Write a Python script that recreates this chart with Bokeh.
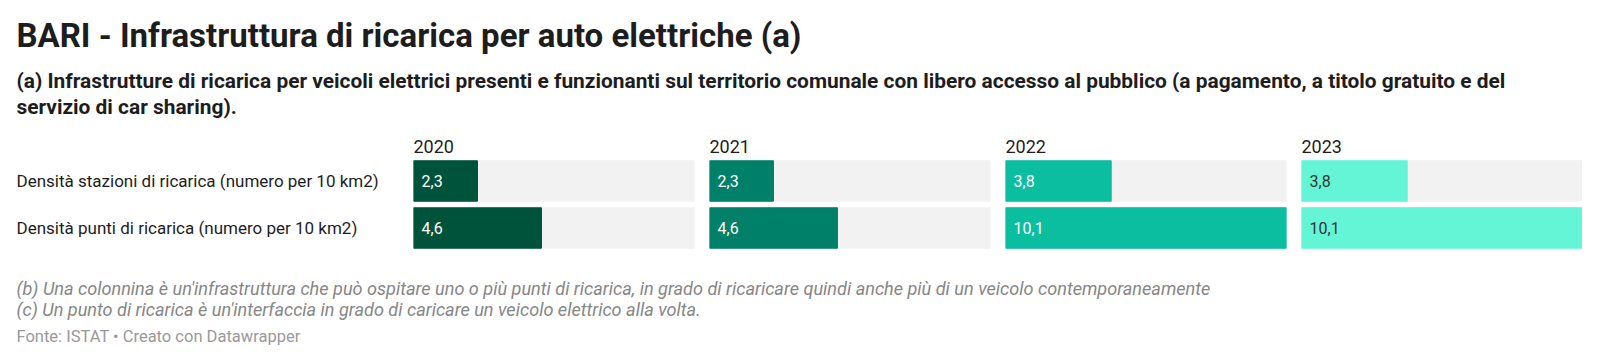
from bokeh.plotting import figure
from bokeh.models import ColumnDataSource, Range1d, FactorRange
from bokeh.layouts import column, row
from bokeh.embed import file_html
from bokeh.resources import INLINE
from bokeh.core.properties import value

# ---------------- data ----------------
title_text = "BARI - Infrastruttura di ricarica per auto elettriche (a)"
subtitle_lines = [
    "(a) Infrastrutture di ricarica per veicoli elettrici presenti e funzionanti sul territorio comunale con libero accesso al pubblico (a pagamento, a titolo gratuito e del",
    "servizio di car sharing).",
]
categories = [
    "Densità stazioni di ricarica (numero per 10 km2)",
    "Densità punti di ricarica (numero per 10 km2)",
]
years = ["2020", "2021", "2022", "2023"]
stazioni = [2.3, 2.3, 3.8, 3.8]
punti = [4.6, 4.6, 10.1, 10.1]
notes = [
    "(b) Una colonnina è un'infrastruttura che può ospitare uno o più punti di ricarica, in grado di ricaricare quindi anche più di un veicolo contemporaneamente",
    "(c) Un punto di ricarica è un'interfaccia in grado di caricare un veicolo elettrico alla volta.",
]
source_text = "Fonte: ISTAT • Creato con Datawrapper"

# ---------------- styles ----------------
FONT = "Roboto"
bar_colors = ["#00533b", "#008068", "#0bbea0", "#64f5d6"]
label_colors = ["#ffffff", "#ffffff", "#ffffff", "#333333"]
TRACK = "#f2f2f2"
TEXT = "#1d1d1d"

W = 1584
HEADER_H = 120
TOP_B = 37
FRAME_H = 94
BOT_B = 4
ROW_H = TOP_B + FRAME_H + BOT_B
FOOT_H = 100
LABEL_W = 413
TRACK_W = 281
GAP = 15
LX = 16

xmax = max(max(stazioni), max(punti))


def blank(fig):
    fig.axis.visible = False
    fig.xgrid.visible = False
    fig.ygrid.visible = False
    fig.outline_line_color = None
    fig.background_fill_color = "white"
    fig.border_fill_color = "white"
    fig.min_border_left = 0
    fig.min_border_right = 0
    fig.min_border_top = 0
    fig.min_border_bottom = 0
    return fig


# ---------------- header ----------------
header = blank(figure(width=W, height=HEADER_H, x_range=Range1d(0, W), y_range=Range1d(HEADER_H, 0),
                      output_backend="svg", toolbar_location=None))
header.text(x=[LX], y=[35], text=[title_text], text_font=value(FONT), text_font_size="33px",
            text_font_style="bold", text_color=TEXT, text_baseline="alphabetic")
header.text(x=[LX, LX], y=[80.5, 106], text=subtitle_lines, text_font=value(FONT), text_font_size="20.9px",
            text_font_style="bold", text_color=TEXT, text_baseline="alphabetic")

# ---------------- bars row ----------------
yr_factors = list(reversed(categories))

labels_fig = blank(figure(width=LABEL_W, height=ROW_H, x_range=Range1d(0, LABEL_W),
                          y_range=FactorRange(factors=yr_factors, range_padding=0),
                          output_backend="svg", toolbar_location=None))
labels_fig.min_border_top = TOP_B
labels_fig.min_border_bottom = BOT_B
labels_fig.text(x=[LX, LX], y=categories, text=categories, text_font=value(FONT), text_font_size="17px",
                text_color=TEXT, text_baseline="middle")

panels = []
for i, yr in enumerate(years):
    right_pad = GAP if i < len(years) - 1 else 0
    p = blank(figure(width=TRACK_W + right_pad, height=ROW_H, x_range=Range1d(0, xmax),
                     y_range=FactorRange(factors=yr_factors, range_padding=0),
                     title=yr, output_backend="svg", toolbar_location=None))
    p.min_border_top = TOP_B
    p.min_border_bottom = BOT_B
    p.min_border_right = right_pad
    p.title.text_font = FONT
    p.title.text_font_size = "18px"
    p.title.text_font_style = "normal"
    p.title.text_color = TEXT
    p.title.align = "left"
    p.title.offset = 0
    p.title.standoff = 10
    vals = [stazioni[i], punti[i]]
    src = ColumnDataSource(dict(
        y=categories,
        v=vals,
        full=[xmax, xmax],
        lab=[f"{v:.1f}".replace(".", ",") for v in vals],
    ))
    p.hbar(y="y", left=0, right="full", height=0.86, color=TRACK, source=src)
    p.hbar(y="y", left=0, right="v", height=0.86, color=bar_colors[i], source=src)
    p.text(x=0, y="y", text="lab", x_offset=8, text_font=value(FONT), text_font_size="16px",
           text_color=label_colors[i], text_baseline="middle", source=src)
    panels.append(p)

bars_row = row([labels_fig] + panels, spacing=0)

# ---------------- footer ----------------
footer = blank(figure(width=W, height=FOOT_H, x_range=Range1d(0, W), y_range=Range1d(FOOT_H, 0),
                      output_backend="svg", toolbar_location=None))
footer.text(x=[LX, LX], y=[33, 53.5], text=notes, text_font=value(FONT), text_font_size="18.1px",
            text_font_style="italic", text_color="#868686", text_baseline="alphabetic")
footer.text(x=[LX], y=[81], text=[source_text], text_font=value(FONT), text_font_size="16.5px",
            text_color="#999999", text_baseline="alphabetic")

layout = column([header, bars_row, footer], spacing=0)

open("out.html", "w").write(file_html(layout, INLINE))
